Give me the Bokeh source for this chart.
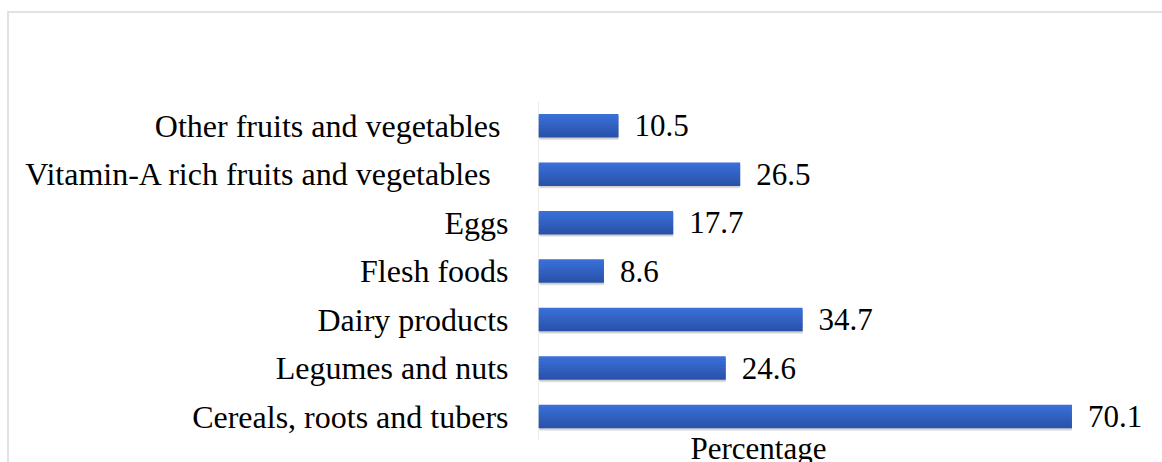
from bokeh.plotting import figure
from bokeh.models import ColumnDataSource, Range1d, FixedTicker
from bokeh.core.properties import value
from bokeh.embed import file_html
from bokeh.resources import INLINE

categories = ["Other fruits and vegetables ", "Vitamin-A rich  fruits and vegetables ", "Eggs",
              "Flesh foods", "Dairy products", "Legumes and nuts", "Cereals, roots and tubers"]
values = [10.5, 26.5, 17.7, 8.6, 34.7, 24.6, 70.1]
labels = ["10.5", "26.5", "17.7", "8.6", "34.7", "24.6", "70.1"]
axis_title = "Percentage"

FONT = "Liberation Serif"
N = len(categories)
ypos = [N - 1 - i for i in range(N)]  # first category on top

src = ColumnDataSource(dict(y=ypos, val=values, lab=labels))

p = figure(width=1162, height=462, output_backend="svg", toolbar_location=None,
           y_range=Range1d(-0.949, N - 0.5), x_range=Range1d(0, 82.0),
           min_border_left=538, min_border_right=0, min_border_top=101, min_border_bottom=0)
p.outline_line_color = None
p.background_fill_color = "white"
p.border_fill_color = None
p.styles = {
    "background": "linear-gradient(#e0e2e7, #e0e2e7) 7px 11px / 100% 2px no-repeat, "
                  "linear-gradient(#e0e2e7, #e0e2e7) 7px 11px / 2px 100% no-repeat, white"
}
p.grid.visible = False
p.xaxis.visible = False

ax = p.yaxis[0]
ax.ticker = FixedTicker(ticks=ypos)
ax.major_label_overrides = {yv: c for yv, c in zip(ypos, categories)}
ax.axis_line_color = None
ax.major_tick_line_color = None
ax.minor_tick_line_color = None
ax.major_tick_out = 0
ax.major_tick_in = 0
ax.minor_tick_out = 0
ax.major_label_text_font = FONT
ax.major_label_text_font_size = "32px"
ax.major_label_text_color = "black"
ax.major_label_standoff = 30

# category axis line (spans the category band only)
p.segment(x0=[0], y0=[-0.5], x1=[0], y1=[N - 0.5], line_color="#d9d9d9", line_width=1)

BAR_H = 0.485
# soft shadow
p.hbar(y=[v - 0.05 for v in ypos], left=0.15, right=values, height=BAR_H,
       fill_color="#7f7f7f", fill_alpha=0.22, line_color=None)
p.hbar(y=[v - 0.028 for v in ypos], left=0.1, right=values, height=BAR_H,
       fill_color="#7f7f7f", fill_alpha=0.22, line_color=None)

# gradient bars (top lighter, bottom darker)
top_c = (0x3a, 0x6f, 0xd8)
bot_c = (0x29, 0x53, 0xaa)
n = 10
h = BAR_H / n
for k in range(n):
    t = k / (n - 1)
    c = tuple(int(round(top_c[i] + (bot_c[i] - top_c[i]) * t)) for i in range(3))
    col = "#%02x%02x%02x" % c
    off = BAR_H / 2 - h / 2 - k * h
    hh = h * 1.6 if k < n - 1 else h
    p.hbar(y=[v + off - (hh - h) / 2 for v in ypos], left=0, right=values, height=hh,
           fill_color=col, line_color=None)

p.text(x="val", y="y", text="lab", source=src, x_offset=16,
       text_font=value(FONT), text_font_size="31px", text_color="black",
       text_align="left", text_baseline="middle")

p.text(x=[28.9], y=[-0.5], text=[axis_title], y_offset=8,
       text_font=value(FONT), text_font_size="31px", text_color="black",
       text_align="center", text_baseline="alphabetic")

open("out.html", "w").write(file_html(p, INLINE))
